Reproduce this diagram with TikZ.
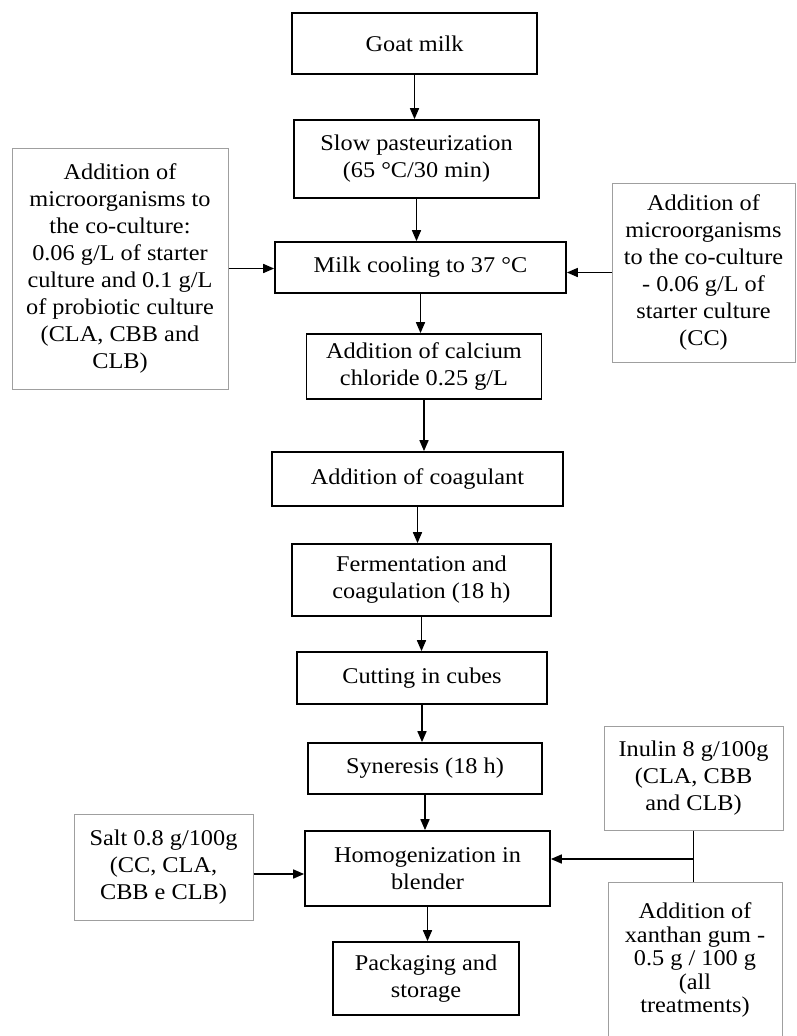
\documentclass[tikz,border=0pt]{standalone}
\usepackage{fontspec}
\setmainfont{Liberation Serif}[FakeStretch=1.08]
\usetikzlibrary{arrows.meta}

\begin{document}
\begin{tikzpicture}[
    x=1pt, y=-1pt,
    every node/.style={font=\fontsize{22.5}{27}\selectfont, align=center, inner sep=0pt},
    box/.style={rectangle, draw, line width=1.7pt},
    sidebox/.style={rectangle, draw=gray!75, line width=1pt},
    arrow/.style={-{Triangle[length=11pt,width=9pt]}, line width=1.6pt}
  ]
  \useasboundingbox (0,0) rectangle (796,1036);

  % Main process
  \node[box, minimum width=245pt, minimum height=61pt] (goat) at (414.5,43.5) {Goat milk};
  \node[box, minimum width=245pt, minimum height=78pt] (pasteur) at (416.5,159) {Slow pasteurization\\(65 °C/30 min)};
  \node[box, minimum width=291pt, minimum height=51pt] (cooling) at (420.5,267.5) {Milk cooling to 37 °C};
  \node[box, minimum width=235pt, minimum height=65pt] (calcium) at (424,366.5) {Addition of calcium\\chloride 0.25 g/L};
  \node[box, minimum width=291pt, minimum height=54pt] (coagulant) at (417.5,479) {Addition of coagulant};
  \node[box, minimum width=259pt, minimum height=72pt] (ferment) at (421.5,580) {Fermentation and\\coagulation (18 h)};
  \node[box, minimum width=250pt, minimum height=52pt] (cutting) at (422,678) {Cutting in cubes};
  \node[box, minimum width=234pt, minimum height=51pt] (syneresis) at (425,768.5) {Syneresis (18 h)};
  \node[box, minimum width=245pt, minimum height=75pt] (homog) at (427.5,868.5) {Homogenization in\\blender};
  \node[box, minimum width=186pt, minimum height=73pt] (packaging) at (426,978.5) {Packaging and\\storage};

  % Additions
  \node[sidebox, minimum width=216pt, minimum height=241pt] (leftmicro) at (120,268.5)
    {Addition of\\microorganisms to\\the co-culture:\\0.06 g/L of starter\\culture and 0.1 g/L\\of probiotic culture\\(CLA, CBB and\\CLB)};
  \node[sidebox, minimum width=183pt, minimum height=179pt] (rightmicro) at (703.5,272.5)
    {Addition of\\microorganisms\\to the co-culture\\- 0.06 g/L of\\starter culture\\(CC)};
  \node[sidebox, minimum width=179pt, minimum height=106pt] (salt) at (163.5,867)
    {Salt 0.8 g/100g\\(CC, CLA,\\CBB e CLB)};
  \node[sidebox, minimum width=179pt, minimum height=104pt] (inulin) at (693.5,778)
    {Inulin 8 g/100g\\(CLA, CBB\\and CLB)};
  \node[sidebox, minimum width=174pt, minimum height=156pt, font=\fontsize{22.5}{23.5}\selectfont] (xanthan) at (695,960)
    {Addition of\\xanthan gum -\\0.5 g / 100 g\\(all\\treatments)};

  % Flow
  \draw[arrow] (goat) -- (goat |- pasteur.north);
  \draw[arrow] (pasteur) -- (pasteur |- cooling.north);
  \draw[arrow] (cooling) -- (cooling |- calcium.north);
  \draw[arrow] (calcium) -- (calcium |- coagulant.north);
  \draw[arrow] (coagulant) -- (coagulant |- ferment.north);
  \draw[arrow] (ferment) -- (ferment |- cutting.north);
  \draw[arrow] (cutting) -- (cutting |- syneresis.north);
  \draw[arrow] (syneresis) -- (syneresis |- homog.north);
  \draw[arrow] (homog) -- (homog |- packaging.north);

  \draw[arrow] (leftmicro) -- (leftmicro -| cooling.west);
  \draw[arrow] (rightmicro) -- (rightmicro -| cooling.east);
  \draw[arrow] ([yshift=-7pt]salt.east) -- ([yshift=-7pt]salt.east -| homog.west);

  \coordinate (junc) at (693.5,859);
  \draw[line width=1.6pt] (inulin) -- (inulin |- xanthan.north);
  \draw[arrow] (junc) -- (junc -| homog.east);

\end{tikzpicture}
\end{document}
